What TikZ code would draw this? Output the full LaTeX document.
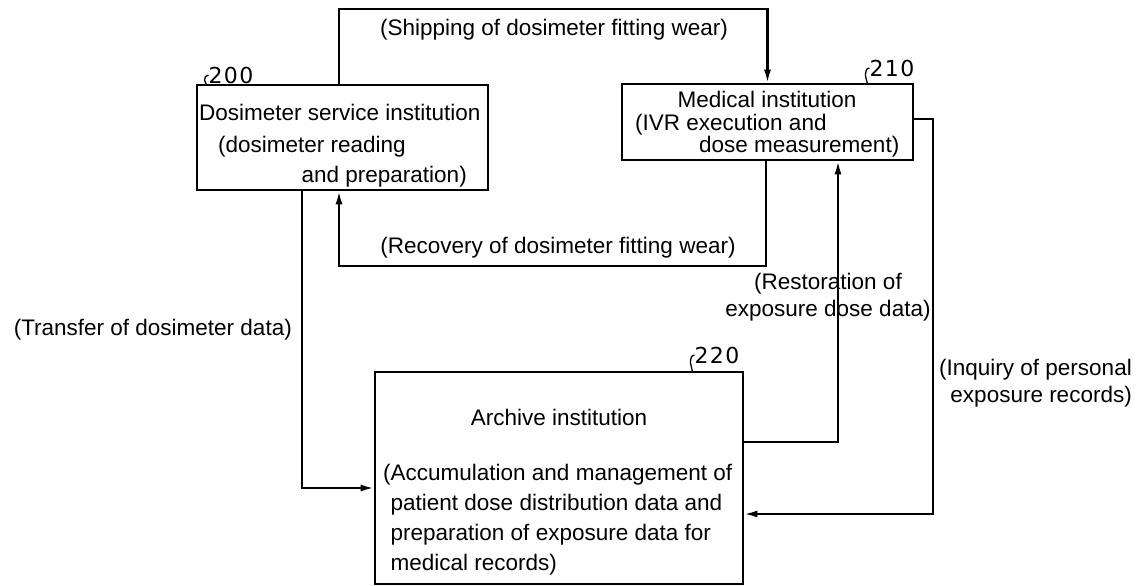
\documentclass[tikz,border=0pt]{standalone}
\usepackage{fontspec}
\setmainfont{Liberation Sans}
\newfontfamily\numfont[LetterSpace=6]{DejaVu Sans}
\usetikzlibrary{arrows.meta,calc}

\begin{document}
\begin{tikzpicture}[x=1pt,y=-1pt,
  inst/.style={draw,line width=2.6pt,inner sep=0pt},
  flow/.style={line width=2.1pt,-{Latex[length=13pt,width=7pt]}},
  txt/.style={inner sep=0pt,font=\fontsize{22.5}{27}\selectfont},
  refnum/.style={inner sep=0pt,font=\numfont\fontsize{22}{22}\selectfont},
  lead/.style={line width=1.3pt}]
\useasboundingbox (0,0) rectangle (1141,586);

\node [inst,minimum width=291pt,minimum height=105pt] (service) at (342.5,137.5) {};
\node [inst,minimum width=291pt,minimum height=76pt] (medical) at (767.5,122) {};
\node [inst,minimum width=368pt,minimum height=212pt] (archive) at (559,478) {};

\node [txt,anchor=west] (service-name) at (199,112) {Dosimeter service institution};
\node [txt,anchor=west] (service-task1) at (218,147) {(dosimeter reading};
\node [txt,anchor=east] (service-task2) at (467,177) {and preparation)};
\node [txt] (medical-name) at (767,99) {Medical institution};
\node [txt,anchor=west,align=left,font=\fontsize{22.5}{22}\selectfont] (medical-task) at (635,136)
  {(IVR execution and\\\hspace*{64pt}dose measurement)};
\node [txt] (archive-name) at (559,417) {Archive institution};
\node [txt,anchor=west,align=left,font=\fontsize{22.5}{30}\selectfont] (archive-task) at (383,520)
  {(Accumulation and management of\\\phantom{(}patient dose distribution data and\\\phantom{(}preparation of exposure data for\\\phantom{(}medical records)};

\node [refnum] (n200) at (231,75) {200};
\node [refnum] (n210) at (892,68) {210};
\node [refnum] (n220) at (717,355) {220};
\draw [lead] (n200.west) to[out=180,in=90] ++(-4,5) to[out=-90,in=90] ++(2,5);
\draw [lead] (n210.west) to[out=180,in=90] ++(-4,8) to[out=-90,in=90] ++(2,8);
\draw [lead] (n220.west) to[out=180,in=90] ++(-4,8) to[out=-90,in=90] ++(2,9);

\draw [flow] ([xshift=-3.5pt]service.north) -- ++(0,-75) -| (medical.north);
\draw [flow] ([xshift=-1.5pt]medical.south) -- ++(0,105) -| ([xshift=-3.5pt]service.south);
\draw [flow] ([xshift=-40.5pt]service.south) |- ($(archive.west)+(0,10)$);
\draw [flow] ($(archive.east)+(0,-36)$) -| ($(medical.south)+(70.5,0)$);
\draw [flow] ($(medical.east)+(0,-3)$) -- ++(19,0) |- ($(archive.east)+(0,36)$);

\node [txt] (ship-lbl) at (554,30) {(Shipping of dosimeter fitting wear)};
\node [txt] (recover-lbl) at (558,248) {(Recovery of dosimeter fitting wear)};
\node [txt,anchor=east] (transfer-lbl) at (292,330) {(Transfer of dosimeter data)};
\node [txt,align=center] (restore-lbl) at (828,297) {(Restoration of\\exposure dose data)};
\node [txt,align=right,anchor=east] (inquiry-lbl) at (1132,383) {(Inquiry of personal\\exposure records)};
\end{tikzpicture}
\end{document}
